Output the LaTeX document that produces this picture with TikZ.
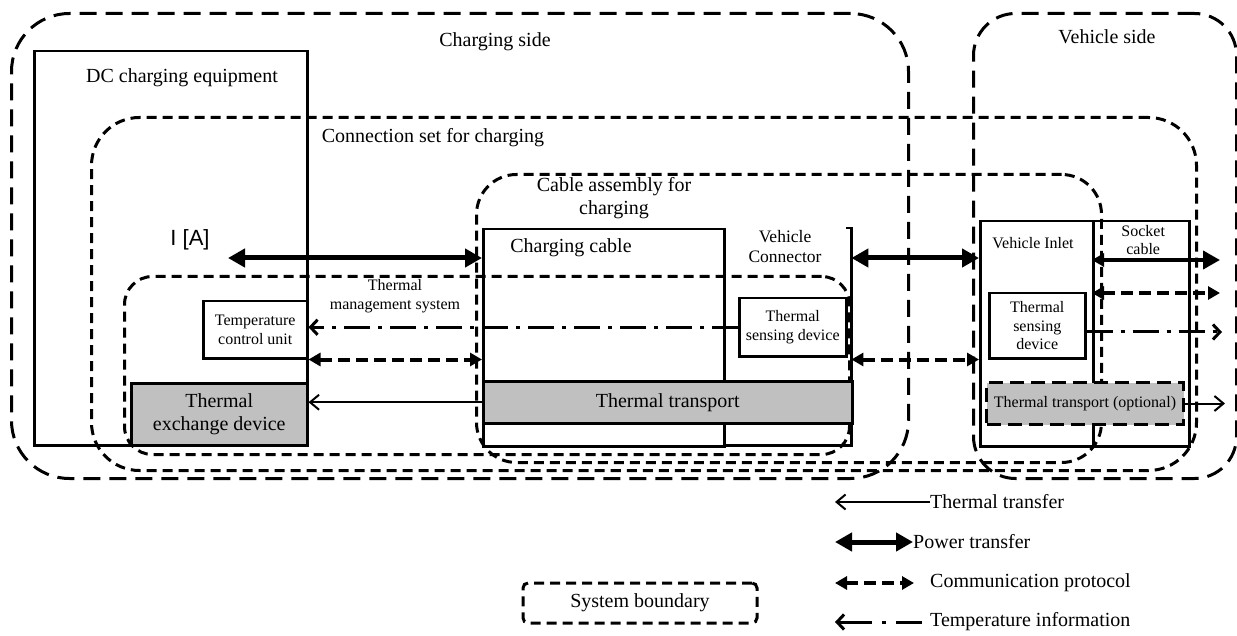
\documentclass[tikz,border=0pt]{standalone}
\usepackage{fontspec}
\setmainfont{Liberation Serif}
\newfontfamily\arialfont{Liberation Sans}
\usetikzlibrary{arrows.meta}
\definecolor{grayc}{RGB}{192,192,192}
\begin{document}
\begin{tikzpicture}[x=1pt,y=-1pt,
  bndL/.style={draw, line width=3pt, dash pattern=on 17pt off 9pt, inner sep=0pt, anchor=north west},
  bndS/.style={draw, line width=3pt, dash pattern=on 10pt off 6pt, inner sep=0pt, anchor=north west},
  blk/.style={draw, line width=2.5pt, inner sep=0pt, anchor=north west},
  gfill/.style={fill=grayc},
  lbig/.style={font=\fontsize{20}{23}\selectfont, align=center, inner sep=0pt},
  lmid/.style={font=\fontsize{17.5}{20}\selectfont, align=center, inner sep=0pt},
  lsmall/.style={font=\fontsize{16}{18.5}\selectfont, align=center, inner sep=0pt},
  pow/.style={line width=5pt, {Triangle[length=17pt,width=18pt]}-{Triangle[length=17pt,width=18pt]}},
  powr/.style={line width=4pt, {Triangle[length=12pt,width=13pt]}-{Triangle[length=17pt,width=18pt]}},
  comm/.style={line width=4pt, dash pattern=on 12pt off 6pt, {Triangle[length=12pt,width=13pt]}-{Triangle[length=12pt,width=13pt]}},
  temp/.style={line width=3pt, dash pattern=on 26pt off 8pt on 4pt off 8pt, -{Straight Barb[length=7pt,width=15pt]}},
  therm/.style={line width=2pt, -{Straight Barb[length=9pt,width=15pt]}}
]
\useasboundingbox (0,0) rectangle (1237,636);

% system boundaries
\node[bndL, rounded corners=58pt, minimum width=897pt, minimum height=465pt] (cside) at (10,12) {};
\node[bndL, rounded corners=42pt, minimum width=263pt, minimum height=465pt] (vside) at (972,12) {};
\node[bndS, rounded corners=48pt, minimum width=1105pt, minimum height=353pt] (cset) at (90,116) {};
\node[bndS, rounded corners=40pt, minimum width=625pt, minimum height=288pt] (cab) at (475,173) {};
\node[bndS, rounded corners=28pt, minimum width=725pt, minimum height=178pt] (tms) at (123,275) {};

% charging equipment
\node[blk, minimum width=273pt, minimum height=394pt] (dc) at (33,50) {};
\node[blk, fill=white, lsmall, minimum width=104pt, minimum height=57pt] (tcu) at (202,300) {Temperature\\control unit};
\node[blk, gfill, lbig, minimum width=176pt, minimum height=62pt] (tex) at (130,382) {Thermal\\exchange device};

% cable assembly
\node[blk, minimum width=241pt, minimum height=217pt] (cc) at (482,228) {};
\node[inner sep=0pt, anchor=north west, minimum width=128pt, minimum height=217pt] (vcon) at (723,228) {};
\draw[line width=2.5pt] ([xshift=-5pt]vcon.north east) -- (vcon.north east) -- (vcon.south east) -- (vcon.south west);
\node[blk, gfill, lbig, minimum width=369pt, minimum height=42pt] (tt) at (482,380) {Thermal transport};
\node[blk, fill=white, lsmall, minimum width=107pt, minimum height=58pt] (tsd1) at (738,297) {Thermal\\sensing device};

% vehicle inlet
\node[blk, minimum width=113pt, minimum height=225pt] (vin) at (979,220) {};
\node[blk, minimum width=96pt, minimum height=225pt] (sock) at (1092,220) {};
\node[blk, fill=white, lsmall, minimum width=96pt, minimum height=65pt] (tsd2) at (988,292) {Thermal\\sensing\\device};
\node[lsmall, fill=white, inner sep=0pt, minimum width=80pt, minimum height=36pt, anchor=north west] (sockl) at (1103,222) {Socket\\cable};
\node[draw, line width=3pt, dash pattern=on 14pt off 7pt, gfill, lsmall, inner sep=0pt, minimum width=197pt, minimum height=42pt, anchor=north west] (tto) at (985,381) {Thermal transport (optional)};

% labels
\node[lbig] (lcs) at (495,42) {Charging side};
\node[lbig] (lvs) at (1107,37) {Vehicle side};
\node[lbig] (ldc) at (182,78) {DC charging equipment};
\node[lbig] (lcset) at (433,138) {Connection set for charging};
\node[lbig] (lcab) at (614,198) {Cable assembly for\\charging};
\node[lbig] (lcc) at (571,248) {Charging cable};
\node[lmid] (lvc) at (785,247) {Vehicle\\Connector};
\node[lsmall] (ltms) at (395,296) {Thermal\\management system};
\node[lsmall] (lvin) at (1033,243) {Vehicle Inlet};
\node[font=\arialfont\fontsize{22}{24}\selectfont, inner sep=0pt] (lia) at (190,240) {I [A]};

% free ends
\coordinate (pA) at (228,258);
\coordinate (sR1) at (1220,260);
\coordinate (sR2) at (1220,293);
\coordinate (sR3) at (1222,332);
\coordinate (sR4) at (1225,401);

% connectors
\draw[pow] (pA) -- (pA -| cc.west);
\draw[pow] (vcon.east |- pA) -- (vin.west |- pA);
\draw[powr] (sock.west |- sR1) -- (sR1);
\draw[comm] (tcu.south east) -- (tcu.south east -| cc.west);
\draw[comm] (vcon.east |- tcu.south east) -- (vin.west |- tcu.south east);
\draw[comm] (sock.west |- sR2) -- (sR2);
\draw[temp] (tsd1.west) -- (tsd1.west -| tcu.east);
\draw[temp] (tsd2.east |- sR3) -- (sR3);
\draw[therm] (tt.west) -- (tt.west -| tex.east);
\draw[therm] (tto.east) -- (tto.east -| sR4);

% legend
\node[draw, line width=3pt, dash pattern=on 10pt off 6pt, rounded corners=5pt, lbig, minimum width=234pt, minimum height=40pt] (sb) at (640,603) {System boundary};
\node[lbig, anchor=west] (l1) at (930,502) {Thermal transfer};
\node[lbig, anchor=west] (l2) at (913,542) {Power transfer};
\node[lbig, anchor=west] (l3) at (930,583) {Communication protocol};
\node[lbig, anchor=west] (l4) at (930,622) {Temperature information};
\coordinate (l1a) at (835,502);
\coordinate (l2a) at (835,542);
\coordinate (l3a) at (835,583);
\coordinate (l4a) at (835,622);
\draw[therm] (l1.west) -- (l1a);
\draw[pow] (l2a) -- (l2.west);
\draw[comm] (l3a) -- ([xshift=-16pt]l3.west);
\draw[temp, dash pattern=on 26pt off 10pt on 4pt off 10pt on 40pt] ([xshift=-8pt]l4.west) -- (l4a);
\end{tikzpicture}
\end{document}
